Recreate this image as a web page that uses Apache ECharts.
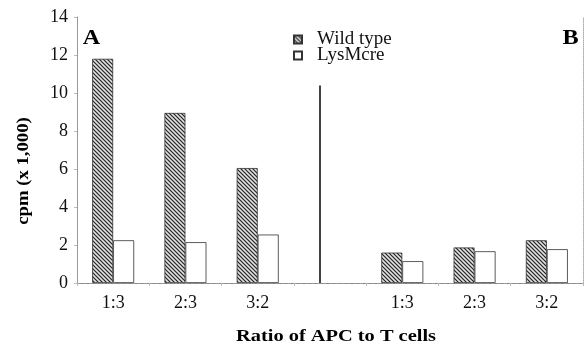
<!DOCTYPE html>
<html>
<head>
<meta charset="utf-8">
<script src="https://cdn.jsdelivr.net/npm/echarts@6/dist/echarts.min.js"></script>
<style>html,body{margin:0;padding:0;background:#fff;}#c{width:586px;height:348px;}</style>
</head>
<body>
<div id="c"></div>
<script>
var categories = ['1:3', '2:3', '3:2', '', '1:3', '2:3', '3:2'];
var wildType = [11.8, 8.95, 6.05, null, 1.6, 1.87, 2.25];
var lysMcre = [2.25, 2.15, 2.55, null, 1.15, 1.67, 1.78];
var seriesNames = ['Wild type', 'LysMcre'];
var yTicks = [0, 14, 2];
var dividerIndex = 3;
var dividerTop = 10.4;

var FONT = '"Liberation Serif", "Times New Roman", serif';

function hatch() {
  var c = document.createElement('canvas');
  c.width = 4; c.height = 4;
  var g = c.getContext('2d');
  g.fillStyle = '#e0e0e0';
  g.fillRect(0, 0, 4, 4);
  g.strokeStyle = '#222';
  g.lineWidth = 1.2;
  g.beginPath();
  g.moveTo(-1, -1); g.lineTo(5, 5);
  g.moveTo(-1, 3); g.lineTo(1, 5);
  g.moveTo(3, -1); g.lineTo(5, 1);
  g.stroke();
  return c;
}

var chart = echarts.init(document.getElementById('c'), null, {renderer: 'canvas'});
chart.setOption({
  animation: false,
  backgroundColor: '#fff',
  textStyle: {fontFamily: FONT},
  grid: {left: 77, right: 3, top: 17, bottom: 65},
  legend: {
    orient: 'vertical', left: 288, top: 25,
    itemWidth: 8, itemHeight: 8, itemGap: -3,
    icon: 'rect',
    data: seriesNames,
    textStyle: {fontFamily: FONT, fontSize: 19, color: '#111', padding: [0, 0, 0, 10]}
  },
  xAxis: [{
    type: 'category', data: categories,
    axisLine: {lineStyle: {color: '#777', width: 1}},
    axisTick: {show: true, length: 3, lineStyle: {color: '#bbb'}},
    axisLabel: {fontFamily: FONT, fontSize: 18, color: '#111', margin: 11},
    splitLine: {show: false}
  }, {
    type: 'category', data: categories, position: 'top',
    axisLine: {show: true, lineStyle: {color: '#999', type: 'dashed', width: 1}},
    axisTick: {show: false}, axisLabel: {show: false}
  }],
  yAxis: [{
    type: 'value', min: yTicks[0], max: yTicks[1], interval: yTicks[2],
    axisLine: {show: true, lineStyle: {color: '#999', width: 1}},
    axisTick: {show: true, length: 3, lineStyle: {color: '#bbb'}},
    axisLabel: {fontFamily: FONT, fontSize: 18, color: '#111', margin: 9},
    splitLine: {show: false}
  }, {
    type: 'value', min: yTicks[0], max: yTicks[1], interval: yTicks[2], position: 'right',
    axisLine: {show: true, lineStyle: {color: '#aaa', type: 'dotted', width: 1}},
    axisTick: {show: false}, axisLabel: {show: false}, splitLine: {show: false}
  }],
  series: [{
    name: seriesNames[0], type: 'bar', data: wildType,
    barWidth: 21, barGap: '0%',
    itemStyle: {color: {image: hatch(), repeat: 'repeat'}, borderColor: '#333', borderWidth: 0.8},
    markLine: {
      silent: true, symbol: 'none', label: {show: false},
      lineStyle: {color: '#000', width: 1.5, type: 'solid'},
      data: [[{coord: [dividerIndex, 0]}, {coord: [dividerIndex, dividerTop]}]]
    }
  }, {
    name: seriesNames[1], type: 'bar', data: lysMcre,
    barWidth: 21,
    itemStyle: {color: '#fff', borderColor: '#333', borderWidth: 0.8}
  }],
  graphic: [
    {type: 'text', x: 91.5, y: 39, scaleX: 1.15, style: {text: 'A', font: 'bold 21px ' + FONT, fill: '#000', align: 'center', verticalAlign: 'middle'}},
    {type: 'text', x: 570.5, y: 39, scaleX: 1.15, style: {text: 'B', font: 'bold 21px ' + FONT, fill: '#000', align: 'center', verticalAlign: 'middle'}},
    {type: 'text', x: 336, y: 337, scaleX: 1.2, style: {text: 'Ratio of APC to T cells', font: 'bold 17px ' + FONT, fill: '#000', align: 'center', verticalAlign: 'middle'}},
    {type: 'text', x: 24, y: 171, rotation: Math.PI / 2, scaleX: 1.1, style: {text: 'cpm (x 1,000)', font: 'bold 17px ' + FONT, fill: '#000', align: 'center', verticalAlign: 'middle'}}
  ]
});
</script>
</body>
</html>
